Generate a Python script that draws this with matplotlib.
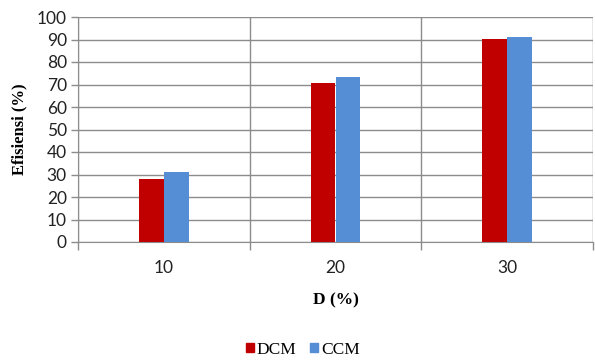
import numpy as np
import matplotlib
matplotlib.use("Agg")
import matplotlib.pyplot as plt
from matplotlib.patches import Patch

categories = ["10", "20", "30"]
dcm = [28.2, 70.8, 90.1]
ccm = [31.0, 73.4, 91.1]
series_names = ["DCM", "CCM"]
colors = ["#C00000", "#558ED5"]

fig = plt.figure(figsize=(5.95, 3.6), dpi=100)
ax = fig.add_axes([78 / 595, 1 - 242 / 360, (593 - 78) / 595, (242 - 17) / 360])

x = np.arange(len(categories))
w = 0.145
ax.bar(x - w / 2, dcm, width=w, color=colors[0], zorder=3)
ax.bar(x + w / 2, ccm, width=w, color=colors[1], zorder=3)

ax.set_xlim(-0.5, len(categories) - 0.5)
ax.set_ylim(0, 100)
ax.set_yticks(np.arange(0, 101, 10))
ax.yaxis.grid(True, color="#8C8C8C", linewidth=1.0, zorder=0)

# category separators extending below the axis
ax.set_xticks(x)
ax.set_xticklabels(categories)
ax.set_xticks(np.arange(-0.5, len(categories) - 0.4, 1.0), minor=True)
ax.xaxis.grid(True, which="minor", color="#8C8C8C", linewidth=1.0, zorder=0)
ax.tick_params(axis="x", which="major", length=0, pad=13)
ax.tick_params(axis="x", which="minor", length=6, color="#8C8C8C", width=1.0)
ax.tick_params(axis="y", length=5, color="#8C8C8C", width=1.0, pad=3)

for lbl in ax.get_xticklabels() + ax.get_yticklabels():
    lbl.set_fontfamily("Lato")
    lbl.set_fontsize(12.5)
    lbl.set_color("#222222")

for side in ["top", "right"]:
    ax.spines[side].set_visible(False)
ax.spines["left"].set_color("#8C8C8C")
ax.spines["bottom"].set_color("#8C8C8C")

ax.set_ylabel("Efisiensi (%)", fontfamily="Liberation Serif", fontweight="bold",
              fontsize=12, labelpad=7)
ax.set_xlabel("D (%)", fontfamily="Liberation Serif", fontweight="bold",
              fontsize=12.5, labelpad=12)

handles = [Patch(color=c) for c in colors]
fig.legend(handles, series_names, loc="center", bbox_to_anchor=(303 / 595, 1 - 350 / 360),
           ncol=2, frameon=False, handlelength=0.45, handleheight=0.45, handletextpad=0.15,
           columnspacing=0.8, prop={"family": "Liberation Serif", "size": 12.5})

fig.savefig("out.png", dpi=100)
